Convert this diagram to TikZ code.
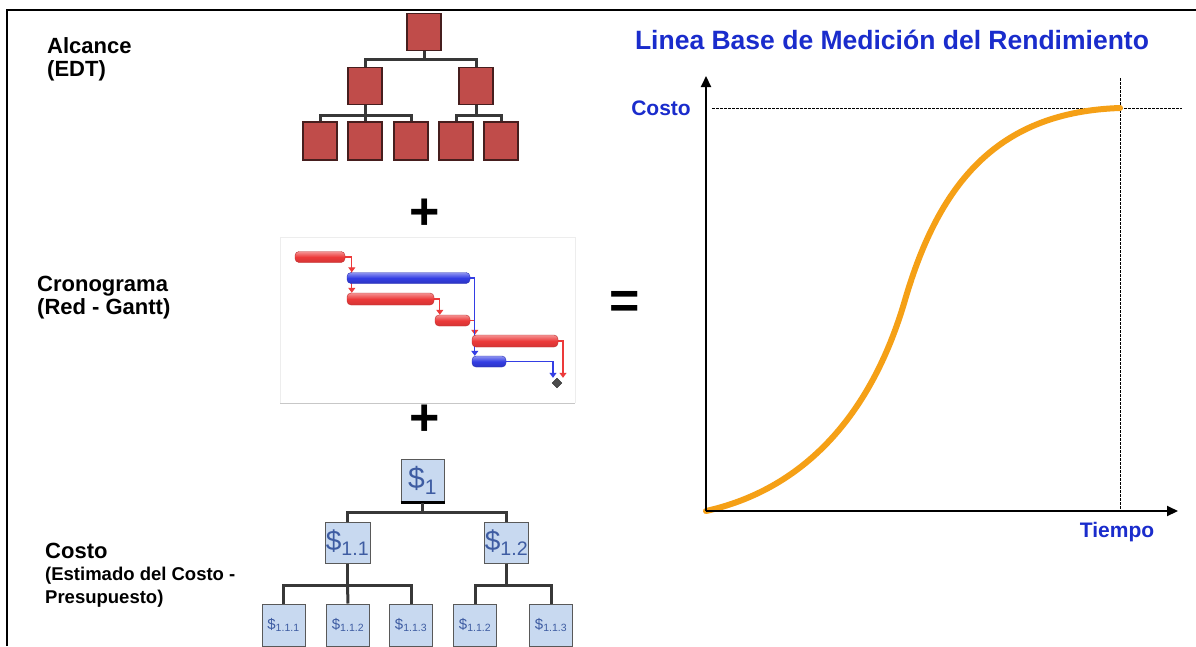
\documentclass[tikz,border=0pt]{standalone}
\usepackage{fontspec}
\setmainfont{Liberation Sans}
\usetikzlibrary{arrows.meta,backgrounds,shapes.geometric}
\definecolor{wbsred}{RGB}{192,76,74}
\definecolor{wbsedge}{RGB}{70,30,30}
\definecolor{costfill}{RGB}{200,217,240}
\definecolor{costtext}{RGB}{62,92,162}
\definecolor{ganttred}{RGB}{236,58,58}
\definecolor{ganttblue}{RGB}{52,62,228}
\definecolor{scurvecol}{RGB}{245,160,22}
\definecolor{titleblue}{RGB}{26,44,204}
\tikzset{
  wbsbox/.style={draw=wbsedge,fill=wbsred,line width=1.5pt,minimum width=34pt,minimum height=37pt,inner sep=0pt},
  costbox/.style={draw=black!65,fill=costfill,line width=1pt,inner sep=0pt,text=costtext},
  treeline/.style={draw=black!78,line width=3pt},
  bar/.style={rounded corners=4pt,minimum height=11pt,inner sep=0pt},
  redbar/.style={bar,draw=ganttred!80!black,top color=ganttred!55!white,bottom color=ganttred!90!black,middle color=ganttred},
  bluebar/.style={bar,draw=ganttblue!80!black,top color=ganttblue!55!white,bottom color=ganttblue!85!black,middle color=ganttblue},
  redlink/.style={draw=ganttred,line width=1.1pt,-{Triangle[width=7pt,length=5pt]}},
  bluelink/.style={draw=ganttblue,line width=1.1pt,-{Triangle[width=7pt,length=5pt]}},
  lbl/.style={anchor=north west,align=left,inner sep=0pt,font=\fontsize{22}{23}\selectfont\bfseries},
  sign/.style={inner sep=0pt,font=\fontsize{52}{52}\selectfont\bfseries},
  axis/.style={draw=black,line width=2pt,-{Triangle[width=10pt,length=11pt]}},
  refline/.style={draw=black,line width=1pt,dash pattern=on 3pt off 1pt},
  bluelbl/.style={inner sep=0pt,text=titleblue,font=\fontsize{21}{21}\selectfont\bfseries}
}
\begin{document}
\begin{tikzpicture}[x=1pt,y=1pt,yscale=-1]
\useasboundingbox (0,0) rectangle (1196,646);
\draw[line width=2pt] (7,646) -- (7,10) -- (1196,10);

\node[lbl] (alcance) at (47,37) {Alcance\\(EDT)};
\node[lbl] (crono) at (37,276) {Cronograma\\(Red - Gantt)};
\node[lbl] (costo) at (45,543) {Costo\\[-1pt]{\fontsize{18.5}{22}\selectfont (Estimado del Costo -}\\{\fontsize{18.5}{22}\selectfont Presupuesto)}};

\node[wbsbox] (w0) at (424,32) {};
\node[wbsbox] (w1) at (365,86) {};
\node[wbsbox] (w2) at (476,86) {};
\node[wbsbox,minimum height=38pt] (w11) at (320,141) {};
\node[wbsbox,minimum height=38pt] (w12) at (365,141) {};
\node[wbsbox,minimum height=38pt] (w13) at (411,141) {};
\node[wbsbox,minimum height=38pt] (w21) at (456,141) {};
\node[wbsbox,minimum height=38pt] (w22) at (501,141) {};
\draw[treeline] (w0.south) -- ++(0,8) coordinate (wj0);
\draw[treeline] (w1.north) |- (wj0) -| (w2.north);
\draw[treeline] (w1.south) -- ++(0,10.5) coordinate (wj1);
\draw[treeline] (w11.north) |- (wj1) -| (w13.north);
\draw[treeline] (wj1) -- (w12.north);
\draw[treeline] (w2.south) -- ++(0,10.5) coordinate (wj2);
\draw[treeline] (w21.north) |- (wj2) -| (w22.north);

\node[sign] (plus1) at (425,214) {+};
\node[sign] (plus2) at (425,420) {+};
\node[sign] (equal) at (625,305) {=};

\node[redbar,minimum width=50pt] (g1) at (320,257) {};
\node[bluebar,minimum width=123pt] (g2) at (408.5,278) {};
\node[redbar,minimum width=87pt,minimum height=12pt] (g3) at (390.5,299) {};
\node[redbar,minimum width=35pt] (g4) at (452.5,320.5) {};
\node[redbar,minimum width=86pt,minimum height=12pt] (g5) at (515,341) {};
\node[bluebar,minimum width=34pt] (g6) at (489,361.5) {};
\node[diamond,fill=black!70,draw=black!85,minimum size=10pt,inner sep=0pt] (ms) at (557,383) {};
\begin{scope}[on background layer]
\fill[white] (0,0) rectangle (1196,646);
\draw[black!7] (280,403) -- (280,237) -- (575,237) -- (575,403);
\draw[black!22,line width=1pt] (280,403) -- (575,403);
\draw[redlink] (g1.east) -| ([xshift=5pt]g2.north west);
\draw[redlink] (g1.east) -| ([xshift=5pt]g3.north west);
\draw[redlink] (g3.east) -| ([xshift=5pt]g4.north west);
\draw[redlink] (g4.east) -| ([xshift=3pt]g5.north west);
\draw[bluelink] (g2.east) -| ([xshift=3pt]g6.north west);
\draw[redlink] (g5.east) -| ([xshift=6pt]ms.north);
\draw[bluelink] (g6.east) -| ([xshift=-4pt]ms.north);
\end{scope}

\node[costbox,minimum width=43pt,minimum height=43pt,font=\fontsize{30}{30}\selectfont] (c0) at (422.5,480.5) {\$\textsubscript{1}};
\draw[black,line width=3pt] (c0.south west) -- (c0.south east);
\node[costbox,minimum width=45pt,minimum height=41pt,font=\fontsize{28}{28}\selectfont] (c1) at (347.5,542.5) {\$\textsubscript{1.1}};
\node[costbox,minimum width=43pt,minimum height=41pt,font=\fontsize{28}{28}\selectfont] (c2) at (506.5,542.5) {\$\textsubscript{1.2}};
\node[costbox,minimum width=43pt,minimum height=42pt,font=\fontsize{15}{15}\selectfont] (c11) at (283.5,625) {\$\textsubscript{1.1.1}};
\node[costbox,minimum width=43pt,minimum height=42pt,font=\fontsize{15}{15}\selectfont] (c12) at (348,625) {\$\textsubscript{1.1.2}};
\node[costbox,minimum width=43pt,minimum height=42pt,font=\fontsize{15}{15}\selectfont] (c13) at (411,625) {\$\textsubscript{1.1.3}};
\node[costbox,minimum width=43pt,minimum height=42pt,font=\fontsize{15}{15}\selectfont] (c21) at (475,625) {\$\textsubscript{1.1.2}};
\node[costbox,minimum width=43pt,minimum height=42pt,font=\fontsize{15}{15}\selectfont] (c22) at (551,625) {\$\textsubscript{1.1.3}};
\draw[treeline] (c0.south) -- ++(0,10) coordinate (cj0);
\draw[treeline] (c1.north) |- (cj0) -| (c2.north);
\draw[treeline] (c1.south) -- ++(0,22) coordinate (cj1);
\draw[treeline] (c11.north) |- (cj1) -| (c13.north);
\draw[treeline] (cj1) -- (c12.north);
\draw[treeline] (c2.south) -- ++(0,22) coordinate (cj2);
\draw[treeline] (c21.north) |- (cj2) -| (c22.north);

\node[bluelbl,font=\fontsize{26.5}{26.5}\selectfont\bfseries] (title) at (892,40) {Linea Base de Medición del Rendimiento};
\coordinate (o) at (706,511);
\coordinate (ytip) at (706,76);
\coordinate (xtip) at (1178,511);
\coordinate (mid) at (905,300);
\coordinate (full) at (1120,108);
\node[bluelbl,anchor=east] (ylab) at (691,108) {Costo};
\node[bluelbl] (xlab) at (1117,532) {Tiempo};
\draw[refline] ([xshift=6pt]o |- full) -- (1182,108);
\draw[refline] (1120,78) -- (o -| full);
\draw[scurvecol,line width=6pt,line cap=round] (o) .. controls (800,490) and (870,420) .. (mid)
  .. controls (940,180) and (1000,112) .. (full);
\draw[axis] (o) -- (ytip);
\draw[axis] (o) -- (xtip);
\end{tikzpicture}
\end{document}
